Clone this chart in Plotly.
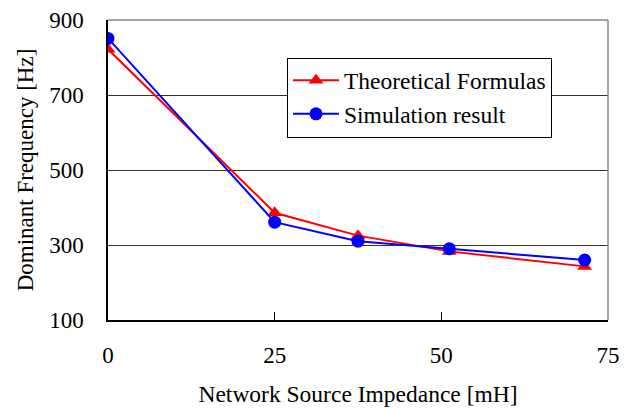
import plotly.graph_objects as go

impedance = [0, 25, 37.5, 51.2, 71.5]
theoretical = [822, 386, 325, 283, 243]
simulation = [851, 361, 310, 290, 260]
x_ticks = [0, 25, 50, 75]
y_ticks = [100, 300, 500, 700, 900]

FONT = "Times New Roman, Liberation Serif, DejaVu Serif, serif"

fig = go.Figure()
fig.add_trace(go.Scatter(
    x=impedance, y=theoretical, name="Theoretical Formulas",
    mode="lines+markers",
    line=dict(color="#ff0000", width=2),
    marker=dict(symbol="triangle-up", size=13, color="#ff0000"),
))
fig.add_trace(go.Scatter(
    x=impedance, y=simulation, name="Simulation result",
    mode="lines+markers",
    line=dict(color="#0000ff", width=2),
    marker=dict(symbol="circle", size=13, color="#0000ff"),
))

fig.update_layout(
    width=630, height=408,
    margin=dict(l=108, r=22, t=20, b=88, autoexpand=False),
    paper_bgcolor="white", plot_bgcolor="white",
    font=dict(family=FONT, size=23, color="black"),
    showlegend=True,
    legend=dict(
        x=0.358, y=0.875, xanchor="left", yanchor="top",
        bordercolor="black", borderwidth=1, bgcolor="white",
        font=dict(family=FONT, size=23.5),
        itemwidth=46, tracegroupgap=0,
    ),
    xaxis=dict(
        range=[0, 75], tickvals=x_ticks, ticks="inside", ticklen=8,
        tickcolor="black", showgrid=False, zeroline=False,
        showline=True, linecolor="black", linewidth=1.5,
        ticklabelstandoff=14, automargin=False,
        tickfont=dict(family=FONT, size=23),
        title=dict(text="Network Source Impedance [mH]", standoff=18,
                   font=dict(family=FONT, size=23.5)),
    ),
    yaxis=dict(
        range=[100, 900], tickvals=y_ticks, ticks="outside", ticklen=18,
        tickcolor="rgba(0,0,0,0)",
        showgrid=True, gridcolor="#333", gridwidth=1, zeroline=False,
        showline=True, linecolor="black", linewidth=1.5,
        automargin=False,
        tickfont=dict(family=FONT, size=23),
        title=dict(text="Dominant Frequency [Hz]", standoff=9,
                   font=dict(family=FONT, size=23)),
    ),
    shapes=[
        dict(type="line", xref="paper", yref="paper", x0=0, x1=1, y0=1, y1=1,
             line=dict(color="#888", width=1.5)),
        dict(type="line", xref="paper", yref="paper", x0=1, x1=1, y0=0, y1=1,
             line=dict(color="#888", width=1.5)),
    ],
)

fig.write_html("out.html")
